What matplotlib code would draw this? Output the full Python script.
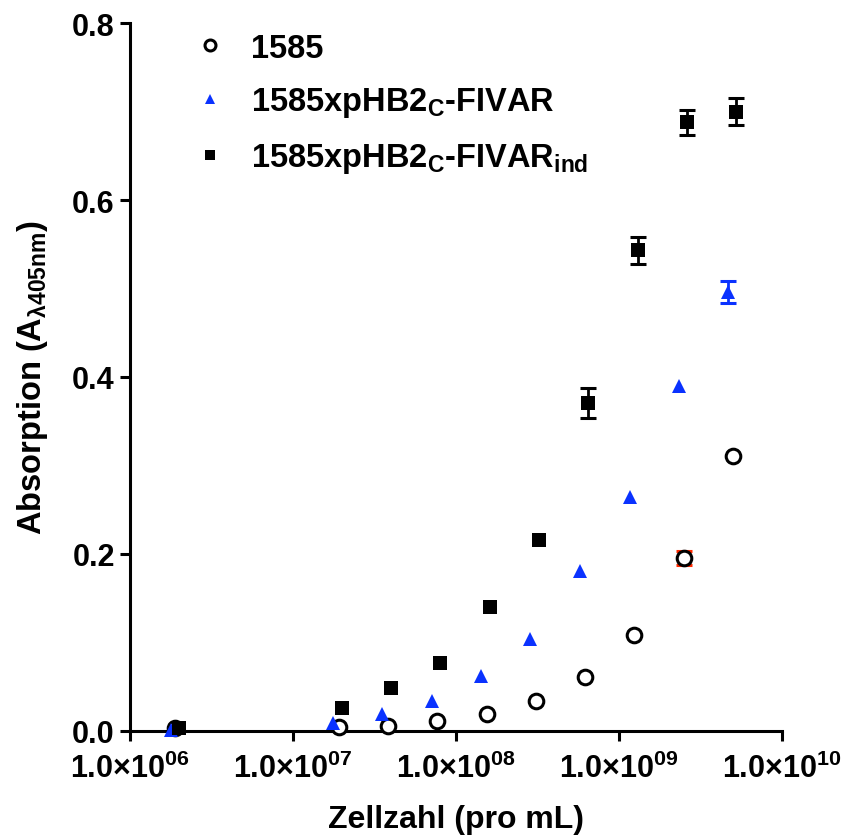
import numpy as np
import matplotlib
matplotlib.use('Agg')
import matplotlib.pyplot as plt
from matplotlib.ticker import FixedLocator, FuncFormatter, NullLocator

plt.rcParams['font.family'] = ['Liberation Sans', 'DejaVu Sans']
plt.rcParams['font.weight'] = 'bold'
plt.rcParams['mathtext.fontset'] = 'custom'
plt.rcParams['mathtext.rm'] = 'Liberation Sans:bold'
plt.rcParams['mathtext.it'] = 'Liberation Sans:bold'
plt.rcParams['mathtext.bf'] = 'Liberation Sans:bold'
plt.rcParams['mathtext.default'] = 'rm'

# Data
x_1585 = [1.89e6, 1.92e7, 3.85e7, 7.67e7, 1.54e8, 3.11e8, 6.21e8, 1.24e9, 2.49e9, 5.02e9]
y_1585 = [0.003, 0.004, 0.005, 0.011, 0.019, 0.033, 0.060, 0.108, 0.195, 0.311]
err_1585 = [0, 0, 0, 0, 0, 0, 0, 0, 0.008, 0]

x_fivar = [1.78e6, 1.76e7, 3.52e7, 7.13e7, 1.42e8, 2.86e8, 5.77e8, 1.16e9, 2.32e9, 4.64e9]
y_fivar = [0.001, 0.009, 0.019, 0.033, 0.062, 0.104, 0.181, 0.264, 0.390, 0.496]
err_fivar = [0, 0, 0, 0, 0, 0, 0, 0, 0, 0.012]

x_ind = [2.0e6, 2.0e7, 3.99e7, 8.0e7, 1.61e8, 3.23e8, 6.48e8, 1.30e9, 2.61e9, 5.22e9]
y_ind = [0.003, 0.025, 0.048, 0.076, 0.140, 0.216, 0.370, 0.543, 0.688, 0.700]
err_ind = [0, 0, 0, 0, 0, 0, 0.017, 0.015, 0.014, 0.015]

labels = ['1585', r'1585xpHB2$_{C}$-FIVAR', r'1585xpHB2$_{C}$-FIVAR$_{ind}$']
x_ticks = [1e6, 1e7, 1e8, 1e9, 1e10]
y_ticks = [0.0, 0.2, 0.4, 0.6, 0.8]

BLUE = '#0a32ff'

fig = plt.figure(figsize=(8.5, 8.37), dpi=100)
ax = fig.add_axes([0.153, 0.126, 0.767, 0.845])

# error bars first (only where there is a visible error)
def draw_err(x, y, e, color):
    x = np.array(x); y = np.array(y); e = np.array(e)
    m = e > 0
    ax.errorbar(x[m], y[m], yerr=e[m], fmt='none', ecolor=color,
                elinewidth=2, capsize=6, capthick=2.2, zorder=2)

draw_err(x_1585, y_1585, err_1585, '#ff2a00')
draw_err(x_fivar, y_fivar, err_fivar, BLUE)
draw_err(x_ind, y_ind, err_ind, 'black')

ax.plot(x_1585, y_1585, 'o', ms=10.5, mfc='white', mec='black', mew=2.2,
        label=labels[0], zorder=3)
ax.plot(x_fivar, y_fivar, '^', ms=10, mfc=BLUE, mec=BLUE, mew=0,
        label=labels[1], zorder=3)
ax.plot(x_ind, y_ind, 's', ms=9.5, mfc='black', mec='black', mew=0,
        label=labels[2], zorder=3)

ax.set_xscale('log')
ax.set_xlim(1e6, 1e10)
ax.set_ylim(0, 0.8)
ax.xaxis.set_major_locator(FixedLocator(x_ticks))
ax.xaxis.set_minor_locator(NullLocator())
ax.xaxis.set_major_formatter(FuncFormatter(
    lambda v, p: r'1.0×10$^{%02d}$' % int(round(np.log10(v)))))
ax.yaxis.set_major_locator(FixedLocator(y_ticks))
ax.yaxis.set_major_formatter(FuncFormatter(lambda v, p: '%.1f' % v))

for s in ['top', 'right']:
    ax.spines[s].set_visible(False)
for s in ['left', 'bottom']:
    ax.spines[s].set_linewidth(2.2)
ax.tick_params(axis='both', direction='out', length=7, width=2.2)
ax.tick_params(axis='x', labelsize=22, pad=9)
ax.tick_params(axis='y', labelsize=22, pad=4)
for lab in ax.get_xticklabels() + ax.get_yticklabels():
    lab.set_fontweight('bold')
for ln in ax.lines:
    ln.set_clip_on(False)

ax.set_xlabel('Zellzahl (pro mL)', fontsize=23, fontweight='bold', labelpad=14)
ax.set_ylabel(r'Absorption (A$_{λ405nm}$)', fontsize=23.5, fontweight='bold',
              labelpad=16)

ax.legend(loc='upper left', bbox_to_anchor=(0.048, 1.028), frameon=False,
          fontsize=23.5, markerscale=0.75, handletextpad=0.65,
          labelspacing=0.66, handlelength=1.2)

fig.savefig('out.png', dpi=100)
